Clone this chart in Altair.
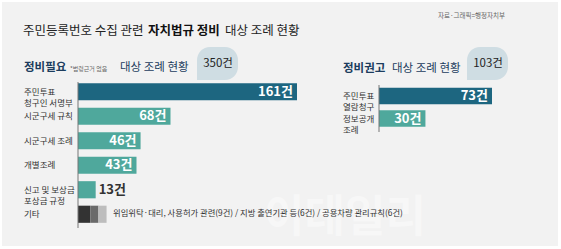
import altair as alt
import pandas as pd

# ---- data ----
left_cats = ["주민투표\n청구인 서명부", "시군구세 규칙", "시군구세 조례", "개별조례",
             "신고 및 보상금\n포상금 규정", "기타"]
left_vals = [161, 68, 46, 43, 13]
etc_parts = ["위임위탁·대리, 사용허가 관련", "지방 출연기관 등", "공용차량 관리규칙"]
etc_vals = [9, 6, 6]
right_cats = ["주민투표\n열람청구", "정보공개\n조례"]
right_vals = [73, 30]

FONT = "Noto Sans CJK KR"
DARK = "#1d6680"
TEAL = "#4fa89c"
NAVY = "#1c3d5e"

left_df = pd.DataFrame({"cat": left_cats[:5], "v": left_vals})
left_df["lab"] = left_df["v"].astype(str) + "건"
etc_df = pd.DataFrame({"cat": "기타", "part": etc_parts, "v": etc_vals, "o": [0, 1, 2]})
cat_df = pd.DataFrame({"cat": left_cats})
right_df = pd.DataFrame({"cat": right_cats, "v": right_vals})
right_df["lab"] = right_df["v"].astype(str) + "건"

ly = alt.Scale(domain=left_cats, range=[79.5, 226.5], paddingInner=0.3, paddingOuter=0.15)
lx = alt.Scale(domain=[0, 161], range=[78, 297])
ry = alt.Scale(domain=right_cats, range=[84.75, 129.75], paddingInner=0.27, paddingOuter=0.135)
rx = alt.Scale(domain=[0, 73], range=[379, 492])

Y_L = alt.Y("cat:N", scale=ly, axis=None)
Y_R = alt.Y("cat:N", scale=ry, axis=None)

lbars = alt.Chart(left_df).mark_bar().encode(
    x=alt.X("v:Q", scale=lx, axis=None), y=Y_L,
    color=alt.condition(alt.datum.v > 100, alt.value(DARK), alt.value(TEAL)))
ltin = alt.Chart(left_df).transform_filter(alt.datum.v >= 20).mark_text(
    align="right", baseline="middle", dx=-4, font=FONT, fontSize=13, fontWeight="bold",
    color="white").encode(x=alt.X("v:Q", scale=lx), y=Y_L, text="lab:N")
ltout = alt.Chart(left_df).transform_filter(alt.datum.v < 20).mark_text(
    align="left", baseline="middle", dx=3, font=FONT, fontSize=13, fontWeight="bold",
    color="#333333").encode(x=alt.X("v:Q", scale=lx), y=Y_L, text="lab:N")
etcbars = alt.Chart(etc_df).mark_bar().encode(
    x=alt.X("v:Q", scale=lx, stack="zero", axis=None), y=Y_L,
    order=alt.Order("o:Q"),
    color=alt.Color("part:N", scale=alt.Scale(domain=etc_parts,
                                              range=["#333333", "#6a6a6a", "#bdbdbd"]),
                    legend=None))
lcat = alt.Chart(cat_df).mark_text(
    align="left", baseline="middle", lineBreak="\n", font=FONT, fontSize=8.5,
    lineHeight=11, color="#333333").encode(x=alt.value(24), y=Y_L, text="cat:N")
left = alt.layer(lbars, etcbars, ltin, ltout, lcat)

rbars = alt.Chart(right_df).mark_bar().encode(
    x=alt.X("v:Q", scale=rx, axis=None), y=Y_R,
    color=alt.condition(alt.datum.v > 50, alt.value(DARK), alt.value(TEAL)))
rtin = alt.Chart(right_df).mark_text(
    align="right", baseline="middle", dx=-4, font=FONT, fontSize=13, fontWeight="bold",
    color="white").encode(x=alt.X("v:Q", scale=rx), y=Y_R, text="lab:N")
rcat = alt.Chart(right_df).mark_text(
    align="left", baseline="middle", lineBreak="\n", font=FONT, fontSize=8.5,
    lineHeight=11, color="#333333").encode(x=alt.value(343), y=Y_R, text="cat:N")
right = alt.layer(rbars, rtin, rcat)

one = alt.Data(values=[{}])

def txt(s, x, y, size, color="#222222", weight="normal", align="left", opacity=1.0):
    return alt.Chart(one).mark_text(
        align=align, baseline="middle", font=FONT, fontSize=size, fontWeight=weight,
        color=color, opacity=opacity).encode(
        x=alt.value(x), y=alt.value(y), text=alt.value(s))

bg = alt.Chart(one).mark_rect(color="#f2f2f2").encode(
    x=alt.value(2), x2=alt.value(558), y=alt.value(2), y2=alt.value(246))

bub1 = alt.Chart(one).mark_rect(
    color="#cfdde3", cornerRadiusTopLeft=13, cornerRadiusTopRight=13,
    cornerRadiusBottomRight=13, cornerRadiusBottomLeft=0).encode(
    x=alt.value(197), x2=alt.value(238), y=alt.value(47), y2=alt.value(80))
bub2 = alt.Chart(one).mark_rect(
    color="#cfdde3", cornerRadiusTopLeft=13, cornerRadiusTopRight=13,
    cornerRadiusBottomRight=13, cornerRadiusBottomLeft=0).encode(
    x=alt.value(467), x2=alt.value(508), y=alt.value(47), y2=alt.value(80))

rule_l = alt.Chart(one).mark_rule(color="#777777", strokeWidth=1).encode(
    x=alt.value(78), y=alt.value(82), y2=alt.value(228))
rule_r = alt.Chart(one).mark_rule(color="#777777", strokeWidth=1).encode(
    x=alt.value(379), y=alt.value(85), y2=alt.value(132))

annots = [
    txt("이데일리", 345, 219, 44, color="#ffffff", weight="bold", align="center", opacity=0.4),
    txt("주민등록번호 수집 관련", 23, 31, 12.5, color="#222222"),
    txt("자치법규 정비", 148, 31, 12.5, color="#111111", weight="bold"),
    txt("대상 조례 현황", 225, 31, 12.5, color="#222222"),
    txt("자료·그래픽=행정자치부", 505, 16, 6.5, color="#666666", align="right"),
    txt("정비필요", 24, 68, 11.5, color=NAVY, weight="bold"),
    txt("*법령근거 없음", 70, 69, 6, color="#666666"),
    txt("대상 조례 현황", 120, 68, 11.5, color=NAVY),
    txt("350건", 218, 64, 11.5, color="#222222", align="center"),
    txt("정비권고", 343, 69, 11.5, color=NAVY, weight="bold"),
    txt("대상 조례 현황", 392, 69, 11.5, color=NAVY),
    txt("103건", 488, 64, 11.5, color="#222222", align="center"),
    txt("위임위탁·대리, 사용허가 관련(9건) / 지방 출연기관 등(6건) / 공용차량 관리규칙(6건)",
        113, 214, 8.3, color="#333333"),
]

chart = alt.layer(
    bg, left, right, rule_l, rule_r, bub1, bub2, *annots
).resolve_scale(x="independent", y="independent", color="independent").properties(
    width=561, height=249, autosize=alt.AutoSizeParams(type="none"),
    padding=0, background="#ffffff"
).configure_view(stroke=None)

chart.save("out.html", embed_options={"renderer": "svg", "actions": False})
